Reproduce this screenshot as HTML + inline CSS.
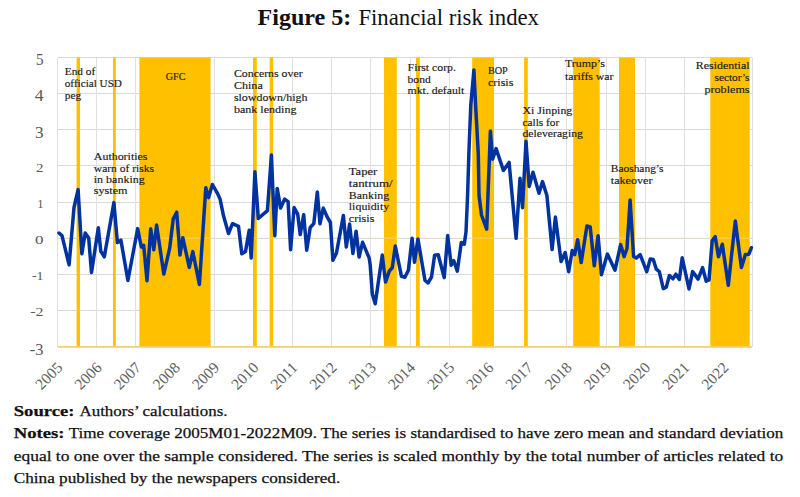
<!DOCTYPE html>
<html><head><meta charset="utf-8"><style>
html,body{margin:0;padding:0;background:#fff;width:800px;height:497px;overflow:hidden;position:relative}
</style></head><body>
<svg width="800" height="497" viewBox="0 0 800 497" style="position:absolute;left:0;top:0"><g stroke="#d9d9d9" stroke-width="1" shape-rendering="crispEdges"><line x1="57.5" y1="57.50" x2="752.0" y2="57.50"/><line x1="57.5" y1="93.64" x2="752.0" y2="93.64"/><line x1="57.5" y1="129.78" x2="752.0" y2="129.78"/><line x1="57.5" y1="165.91" x2="752.0" y2="165.91"/><line x1="57.5" y1="202.05" x2="752.0" y2="202.05"/><line x1="57.5" y1="238.19" x2="752.0" y2="238.19"/><line x1="57.5" y1="274.33" x2="752.0" y2="274.33"/><line x1="57.5" y1="310.46" x2="752.0" y2="310.46"/><line x1="57.5" y1="346.60" x2="752.0" y2="346.60"/></g><g stroke="#e0e0e0" stroke-width="1" shape-rendering="crispEdges"><line x1="57.50" y1="57.5" x2="57.50" y2="346.6"/><line x1="96.68" y1="57.5" x2="96.68" y2="346.6"/><line x1="135.86" y1="57.5" x2="135.86" y2="346.6"/><line x1="175.04" y1="57.5" x2="175.04" y2="346.6"/><line x1="214.22" y1="57.5" x2="214.22" y2="346.6"/><line x1="253.40" y1="57.5" x2="253.40" y2="346.6"/><line x1="292.58" y1="57.5" x2="292.58" y2="346.6"/><line x1="331.76" y1="57.5" x2="331.76" y2="346.6"/><line x1="370.94" y1="57.5" x2="370.94" y2="346.6"/><line x1="410.12" y1="57.5" x2="410.12" y2="346.6"/><line x1="449.30" y1="57.5" x2="449.30" y2="346.6"/><line x1="488.48" y1="57.5" x2="488.48" y2="346.6"/><line x1="527.66" y1="57.5" x2="527.66" y2="346.6"/><line x1="566.84" y1="57.5" x2="566.84" y2="346.6"/><line x1="606.02" y1="57.5" x2="606.02" y2="346.6"/><line x1="645.20" y1="57.5" x2="645.20" y2="346.6"/><line x1="684.38" y1="57.5" x2="684.38" y2="346.6"/><line x1="723.56" y1="57.5" x2="723.56" y2="346.6"/><line x1="752.0" y1="57.5" x2="752.0" y2="346.6"/></g><g fill="#ffc000"><rect x="76.6" y="57.5" width="3.40" height="289.10"/><rect x="113.0" y="57.5" width="2.80" height="289.10"/><rect x="139.4" y="57.5" width="71.20" height="289.10"/><rect x="253.0" y="57.5" width="3.80" height="289.10"/><rect x="269.6" y="57.5" width="3.60" height="289.10"/><rect x="384.0" y="57.5" width="12.80" height="289.10"/><rect x="416.0" y="57.5" width="3.80" height="289.10"/><rect x="472.2" y="57.5" width="21.80" height="289.10"/><rect x="524.1" y="57.5" width="3.60" height="289.10"/><rect x="573.2" y="57.5" width="26.50" height="289.10"/><rect x="619.0" y="57.5" width="16.00" height="289.10"/><rect x="710.3" y="57.5" width="39.40" height="289.10"/></g><line x1="57.5" y1="238.19" x2="752.0" y2="238.19" stroke="#f0e0b0" stroke-width="1" opacity="0.6"/><line x1="58.5" y1="347.00" x2="752.0" y2="347.00" stroke="#f7cd5c" stroke-width="1.4"/><g font-family="Liberation Serif" fill="#595959" text-anchor="end"><text x="43.5" y="65.10" font-size="16.5" textLength="7.5" lengthAdjust="spacingAndGlyphs">5</text><text x="43.5" y="101.24" font-size="16.5" textLength="8.8" lengthAdjust="spacingAndGlyphs">4</text><text x="43.5" y="137.97" font-size="16.5" textLength="8.6" lengthAdjust="spacingAndGlyphs">3</text><text x="43.5" y="171.51" font-size="13.5" textLength="7.5" lengthAdjust="spacingAndGlyphs">2</text><text x="43.5" y="207.65" font-size="13.5" textLength="6.3" lengthAdjust="spacingAndGlyphs">1</text><text x="43.5" y="243.89" font-size="13.5" textLength="8.5" lengthAdjust="spacingAndGlyphs">0</text><text x="43.5" y="279.63" font-size="13.5" textLength="11.5" lengthAdjust="spacingAndGlyphs">-1</text><text x="43.5" y="316.46" font-size="13.5" textLength="13.3" lengthAdjust="spacingAndGlyphs">-2</text><text x="43.5" y="354.60" font-size="16.5" textLength="13.7" lengthAdjust="spacingAndGlyphs">-3</text></g><g font-family="Liberation Serif" font-size="15.5" fill="#606060" text-anchor="end"><text transform="translate(63.50,368.50) rotate(-45)" textLength="31" lengthAdjust="spacingAndGlyphs">2005</text><text transform="translate(102.68,368.50) rotate(-45)" textLength="31" lengthAdjust="spacingAndGlyphs">2006</text><text transform="translate(141.86,368.50) rotate(-45)" textLength="31" lengthAdjust="spacingAndGlyphs">2007</text><text transform="translate(181.04,368.50) rotate(-45)" textLength="31" lengthAdjust="spacingAndGlyphs">2008</text><text transform="translate(220.22,368.50) rotate(-45)" textLength="31" lengthAdjust="spacingAndGlyphs">2009</text><text transform="translate(259.40,368.50) rotate(-45)" textLength="31" lengthAdjust="spacingAndGlyphs">2010</text><text transform="translate(298.58,368.50) rotate(-45)" textLength="31" lengthAdjust="spacingAndGlyphs">2011</text><text transform="translate(337.76,368.50) rotate(-45)" textLength="31" lengthAdjust="spacingAndGlyphs">2012</text><text transform="translate(376.94,368.50) rotate(-45)" textLength="31" lengthAdjust="spacingAndGlyphs">2013</text><text transform="translate(416.12,368.50) rotate(-45)" textLength="31" lengthAdjust="spacingAndGlyphs">2014</text><text transform="translate(455.30,368.50) rotate(-45)" textLength="31" lengthAdjust="spacingAndGlyphs">2015</text><text transform="translate(494.48,368.50) rotate(-45)" textLength="31" lengthAdjust="spacingAndGlyphs">2016</text><text transform="translate(533.66,368.50) rotate(-45)" textLength="31" lengthAdjust="spacingAndGlyphs">2017</text><text transform="translate(572.84,368.50) rotate(-45)" textLength="31" lengthAdjust="spacingAndGlyphs">2018</text><text transform="translate(612.02,368.50) rotate(-45)" textLength="31" lengthAdjust="spacingAndGlyphs">2019</text><text transform="translate(651.20,368.50) rotate(-45)" textLength="31" lengthAdjust="spacingAndGlyphs">2020</text><text transform="translate(690.38,368.50) rotate(-45)" textLength="31" lengthAdjust="spacingAndGlyphs">2021</text><text transform="translate(729.56,368.50) rotate(-45)" textLength="31" lengthAdjust="spacingAndGlyphs">2022</text></g><polyline points="59.0,233.0 62.0,235.6 69.1,264.9 74.0,207.5 78.1,189.6 81.9,253.8 85.2,233.0 88.7,238.1 91.5,272.5 98.3,227.8 100.8,251.2 104.3,256.8 113.9,202.6 117.4,242.6 120.9,240.1 127.9,280.5 137.7,228.6 141.3,247.0 143.7,245.3 147.0,280.7 150.7,228.8 153.8,249.7 156.6,224.9 163.8,274.0 169.7,248.0 173.2,219.1 176.7,212.2 180.0,255.0 182.8,237.7 189.3,267.4 192.8,251.6 199.4,284.5 205.8,187.7 208.6,197.6 212.4,184.5 217.6,193.6 220.1,199.1 223.5,215.8 228.5,233.5 232.5,223.7 238.5,226.3 241.8,253.8 245.5,251.5 249.2,230.2 251.2,258.0 254.9,171.7 258.3,218.5 267.4,210.7 271.4,155.1 274.8,235.8 277.2,188.4 280.6,208.1 284.6,199.1 288.1,201.6 290.6,249.7 294.1,207.6 297.7,214.2 300.2,234.6 303.7,214.7 306.7,250.2 310.2,227.5 313.8,223.6 317.3,192.0 320.0,223.8 323.3,208.1 327.3,217.2 330.4,222.5 332.9,260.3 336.4,253.2 343.4,215.4 346.3,247.0 349.6,224.1 352.9,253.6 356.1,231.2 359.1,257.1 362.6,242.3 369.2,258.1 370.2,265.1 372.3,294.0 375.2,303.8 382.3,255.1 385.5,282.1 389.3,271.2 392.3,267.6 395.3,246.0 401.4,276.2 404.9,277.2 408.4,270.2 412.1,238.2 414.5,262.3 417.9,238.9 425.0,280.5 428.0,283.0 431.5,277.0 434.6,255.2 438.2,254.7 444.2,277.6 447.7,235.6 451.2,265.2 453.8,260.7 457.3,271.1 461.3,242.6 464.3,244.1 466.0,232.0 467.6,195.0 469.0,150.0 470.8,105.0 473.9,70.1 475.6,105.0 478.3,154.0 479.0,195.0 481.5,215.0 486.7,229.2 490.4,131.0 492.6,159.2 496.1,148.6 503.4,170.4 509.1,162.4 516.1,238.3 520.0,178.3 522.5,207.7 526.0,141.3 529.2,186.4 533.0,172.2 539.0,193.2 542.5,181.6 546.9,195.5 552.1,249.6 555.4,217.1 561.1,261.6 565.2,252.6 568.7,271.7 572.2,250.6 574.7,254.6 577.7,239.7 581.2,262.6 586.9,226.0 590.2,227.0 594.3,265.7 598.1,235.7 601.4,274.7 607.4,254.1 615.0,270.2 620.6,244.6 624.1,256.6 627.0,248.5 630.1,200.1 633.6,256.6 636.2,258.1 640.2,254.6 646.7,271.7 650.2,259.1 653.3,259.6 656.3,269.2 659.3,271.7 663.3,288.6 666.3,287.1 669.4,275.5 672.9,278.8 675.9,274.2 679.4,279.5 682.2,257.8 689.0,289.0 692.6,271.6 698.1,279.1 702.6,267.6 706.2,281.2 709.0,280.0 712.2,240.7 715.2,236.6 718.5,256.8 722.3,244.2 728.3,285.2 735.3,221.0 741.4,267.6 745.4,254.5 748.9,254.2 751.4,247.7" fill="none" stroke="#0033a0" stroke-width="3.5" stroke-linejoin="round" stroke-linecap="round"/><g font-family="Liberation Serif" font-size="10.4" fill="#1a1a1a" stroke="#1a1a1a" stroke-width="0.15"><text x="64.8" y="74.6" text-anchor="start" textLength="30.4" lengthAdjust="spacingAndGlyphs">End of</text><text x="64.8" y="87.4" text-anchor="start" textLength="57.1" lengthAdjust="spacingAndGlyphs">official USD</text><text x="64.8" y="98.7" text-anchor="start" textLength="16.4" lengthAdjust="spacingAndGlyphs">peg</text><text x="93.8" y="159.6" text-anchor="start" textLength="53.7" lengthAdjust="spacingAndGlyphs">Authorities</text><text x="93.8" y="171.5" text-anchor="start" textLength="60.3" lengthAdjust="spacingAndGlyphs">warn of risks</text><text x="93.8" y="182.6" text-anchor="start" textLength="50.9" lengthAdjust="spacingAndGlyphs">in banking</text><text x="93.8" y="194.2" text-anchor="start" textLength="33.8" lengthAdjust="spacingAndGlyphs">system</text><text x="165.75" y="80.4" text-anchor="start" textLength="19.6" lengthAdjust="spacingAndGlyphs">GFC</text><text x="233.9" y="77.0" text-anchor="start" textLength="68.8" lengthAdjust="spacingAndGlyphs">Concerns over</text><text x="233.9" y="89.2" text-anchor="start" textLength="28.9" lengthAdjust="spacingAndGlyphs">China</text><text x="233.9" y="101.0" text-anchor="start" textLength="73.6" lengthAdjust="spacingAndGlyphs">slowdown/high</text><text x="233.9" y="113.0" text-anchor="start" textLength="62.6" lengthAdjust="spacingAndGlyphs">bank lending</text><text x="348.8" y="174.8" text-anchor="start" textLength="28.5" lengthAdjust="spacingAndGlyphs">Taper</text><text x="348.8" y="186.8" text-anchor="start" textLength="43.9" lengthAdjust="spacingAndGlyphs">tantrum/</text><text x="348.8" y="198.7" text-anchor="start" textLength="40.4" lengthAdjust="spacingAndGlyphs">Banking</text><text x="348.8" y="210.3" text-anchor="start" textLength="40.4" lengthAdjust="spacingAndGlyphs">liquidity</text><text x="348.8" y="222.0" text-anchor="start" textLength="25.6" lengthAdjust="spacingAndGlyphs">crisis</text><text x="407.6" y="70.9" text-anchor="start" textLength="48.3" lengthAdjust="spacingAndGlyphs">First corp.</text><text x="407.6" y="82.7" text-anchor="start" textLength="23.1" lengthAdjust="spacingAndGlyphs">bond</text><text x="407.6" y="94.4" text-anchor="start" textLength="56.8" lengthAdjust="spacingAndGlyphs">mkt. default</text><text x="487.9" y="73.7" text-anchor="start" textLength="19.9" lengthAdjust="spacingAndGlyphs">BOP</text><text x="487.9" y="85.6" text-anchor="start" textLength="25.5" lengthAdjust="spacingAndGlyphs">crisis</text><text x="522.5" y="114.1" text-anchor="start" textLength="49.8" lengthAdjust="spacingAndGlyphs">Xi Jinping</text><text x="522.5" y="126.2" text-anchor="start" textLength="36.8" lengthAdjust="spacingAndGlyphs">calls for</text><text x="522.5" y="137.3" text-anchor="start" textLength="60.4" lengthAdjust="spacingAndGlyphs">deleveraging</text><text x="565.0" y="67.0" text-anchor="start" textLength="40.0" lengthAdjust="spacingAndGlyphs">Trump’s</text><text x="565.0" y="79.5" text-anchor="start" textLength="48.5" lengthAdjust="spacingAndGlyphs">tariffs war</text><text x="610.8" y="171.5" text-anchor="start" textLength="52.7" lengthAdjust="spacingAndGlyphs">Baoshang’s</text><text x="610.8" y="183.5" text-anchor="start" textLength="41.7" lengthAdjust="spacingAndGlyphs">takeover</text><text x="749.5" y="68.5" text-anchor="end" textLength="53.7" lengthAdjust="spacingAndGlyphs">Residential</text><text x="749.5" y="81.2" text-anchor="end" textLength="35.0" lengthAdjust="spacingAndGlyphs">sector’s</text><text x="749.5" y="92.5" text-anchor="end" textLength="45.0" lengthAdjust="spacingAndGlyphs">problems</text></g><text x="257.5" y="24.8" font-family="Liberation Serif" font-size="22.2" font-weight="bold" fill="#111" textLength="93.8" lengthAdjust="spacingAndGlyphs">Figure 5:</text><text x="358.4" y="24.8" font-family="Liberation Serif" font-size="22.2" fill="#111" textLength="180.6" lengthAdjust="spacingAndGlyphs">Financial risk index</text><g font-family="Liberation Serif" font-size="15" fill="#111" stroke="#111" stroke-width="0.25"><text x="13.75" y="415.5" font-weight="bold" textLength="60.75" lengthAdjust="spacingAndGlyphs">Source:</text><text x="79.5" y="415.5" textLength="148" lengthAdjust="spacingAndGlyphs">Authors’ calculations.</text><text x="13.75" y="438.0" font-weight="bold" textLength="50.75" lengthAdjust="spacingAndGlyphs">Notes:</text><text x="68.75" y="438.0" textLength="714.5" lengthAdjust="spacingAndGlyphs">Time coverage 2005M01-2022M09. The series is standardised to have zero mean and standard deviation</text><text x="13.75" y="460.5" textLength="769.5" lengthAdjust="spacingAndGlyphs">equal to one over the sample considered. The series is scaled monthly by the total number of articles related to</text><text x="13.75" y="483.0" textLength="326.5" lengthAdjust="spacingAndGlyphs">China published by the newspapers considered.</text></g></svg>
</body></html>
